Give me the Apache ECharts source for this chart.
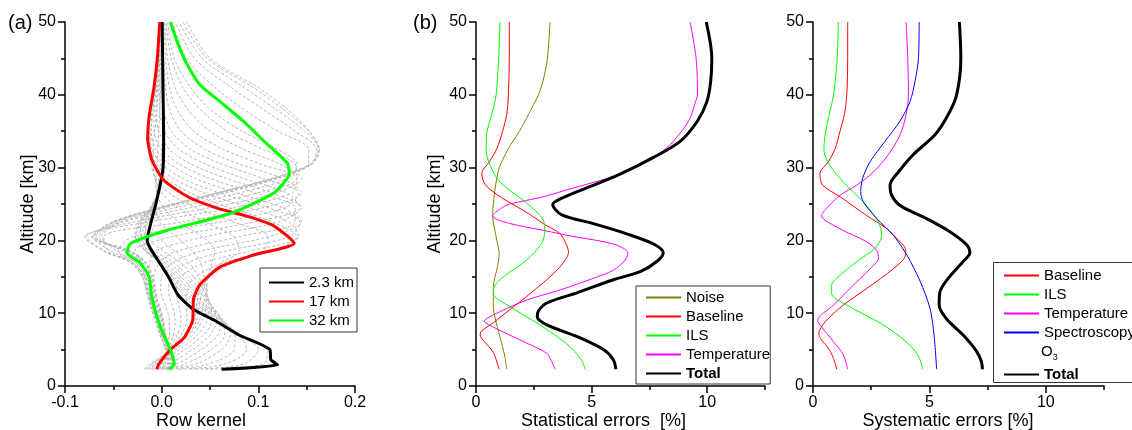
<!DOCTYPE html>
<html>
<head>
<meta charset="utf-8">
<script src="https://cdn.jsdelivr.net/npm/echarts@6/dist/echarts.min.js"></script>
<style>
  html, body { margin: 0; padding: 0; background: #fff; }
  #chart { width: 1132px; height: 430px; }
</style>
</head>
<body>
<div id="chart"></div>
<script>
// ---------- (a) averaging-kernel rows ----------
// highlighted rows: altitude grid + kernel value
const alt23 = [2.3, 2.9, 3.6, 5, 7, 9, 10.5, 12.5, 15, 17.5, 19, 20, 22.5, 25, 28, 30, 34, 40, 50];
const k23   = [0.062, 0.12, 0.113, 0.112, 0.08, 0.055, 0.033, 0.017, 0.007, -0.005, -0.012, -0.015, -0.011, -0.006, -0.001, 0.0015, 0.002, 0.0015, 0.0005];
const alt17 = [2.3, 3, 5, 6.6, 9, 12, 14, 16.4, 18, 19.6, 22, 23.3, 24.4, 26, 28.3, 31, 34, 37, 41, 45, 50];
const k17   = [-0.005, -0.003, 0.009, 0.023, 0.032, 0.033, 0.040, 0.061, 0.095, 0.137, 0.116, 0.089, 0.058, 0.027, 0.002, -0.010, -0.0145, -0.013, -0.008, -0.0045, -0.002];
const alt32 = [2.3, 3, 5, 8, 12, 15, 17, 18.3, 19.6, 21.4, 23.7, 26.5, 29.2, 30.6, 33.5, 36.3, 39, 41.3, 44.5, 47.3, 50];
const k32   = [0.0076, 0.013, 0.009, -0.001, -0.010, -0.013, -0.023, -0.036, -0.032, 0.006, 0.071, 0.116, 0.132, 0.13, 0.107, 0.085, 0.061, 0.040, 0.025, 0.016, 0.009];

// all other rows, sampled on a common altitude grid
const rowAlt = [2.3, 3, 5, 7, 9, 11, 13, 15, 17, 18.5, 20.5, 22.5, 24.5, 26.5, 28.5, 30.5, 32.5, 35, 38, 41, 45, 50];
const row3  = [0.045, 0.105, 0.11, 0.082, 0.057, 0.034, 0.018, 0.008, -0.003, -0.010, -0.015, -0.012, -0.008, -0.004, -0.001, 0.001, 0.002, 0.002, 0.002, 0.0015, 0.001, 0.0005];
const row4  = [0.03, 0.085, 0.10, 0.083, 0.06, 0.038, 0.02, 0.009, -0.003, -0.012, -0.018, -0.014, -0.009, -0.004, -0.001, 0.001, 0.002, 0.002, 0.002, 0.0015, 0.001, 0.0005];
const row5  = [0.018, 0.065, 0.088, 0.08, 0.062, 0.041, 0.023, 0.011, -0.003, -0.014, -0.021, -0.016, -0.009, -0.004, -0.001, 0.001, 0.002, 0.003, 0.002, 0.0015, 0.001, 0.0005];
const row6  = [0.01, 0.048, 0.075, 0.076, 0.063, 0.044, 0.026, 0.013, -0.002, -0.016, -0.024, -0.018, -0.01, -0.004, 0.0, 0.002, 0.003, 0.003, 0.002, 0.0015, 0.001, 0.0005];
const row7  = [0.004, 0.035, 0.062, 0.071, 0.064, 0.047, 0.03, 0.016, 0.0, -0.017, -0.027, -0.021, -0.011, -0.004, 0.0, 0.002, 0.003, 0.003, 0.002, 0.0015, 0.001, 0.0005];
const row8  = [-0.001, 0.024, 0.051, 0.065, 0.063, 0.05, 0.034, 0.02, 0.003, -0.016, -0.028, -0.023, -0.012, -0.004, 0.0, 0.002, 0.003, 0.003, 0.002, 0.0015, 0.001, 0.0005];
const row9  = [-0.005, 0.015, 0.041, 0.058, 0.061, 0.052, 0.038, 0.024, 0.007, -0.012, -0.027, -0.023, -0.012, -0.004, 0.0, 0.002, 0.003, 0.003, 0.002, 0.0015, 0.001, 0.0005];
const row10 = [-0.009, 0.007, 0.032, 0.05, 0.057, 0.052, 0.041, 0.028, 0.012, -0.007, -0.022, -0.021, -0.011, -0.004, 0.0, 0.002, 0.003, 0.003, 0.002, 0.001, 0.001, 0.0];
const row11 = [-0.012, 0.0, 0.024, 0.043, 0.052, 0.051, 0.044, 0.033, 0.019, 0.002, -0.015, -0.017, -0.01, -0.004, 0.0, 0.002, 0.002, 0.002, 0.002, 0.001, 0.001, 0.0];
const row12 = [-0.015, -0.006, 0.018, 0.037, 0.047, 0.049, 0.046, 0.038, 0.028, 0.014, -0.004, -0.012, -0.009, -0.004, -0.001, 0.001, 0.002, 0.002, 0.001, 0.001, 0.0, 0.0];
const row13 = [-0.017, -0.01, 0.014, 0.032, 0.042, 0.046, 0.047, 0.044, 0.04, 0.032, 0.015, -0.002, -0.006, -0.005, -0.003, -0.001, 0.0, 0.001, 0.001, 0.0, 0.0, 0.0];
const row14 = [-0.018, -0.013, 0.011, 0.029, 0.039, 0.043, 0.046, 0.048, 0.052, 0.055, 0.042, 0.018, 0.002, -0.005, -0.006, -0.005, -0.004, -0.003, -0.002, -0.001, 0.0, 0.0];
const row15 = [-0.014, -0.01, 0.01, 0.027, 0.036, 0.039, 0.042, 0.048, 0.062, 0.08, 0.075, 0.045, 0.017, 0.0, -0.007, -0.009, -0.009, -0.007, -0.005, -0.003, -0.002, -0.001];
const row16 = [-0.01, -0.007, 0.009, 0.025, 0.034, 0.036, 0.039, 0.05, 0.075, 0.105, 0.11, 0.075, 0.035, 0.008, -0.006, -0.011, -0.012, -0.011, -0.009, -0.006, -0.003, -0.001];
const row18 = [-0.002, 0.0, 0.009, 0.02, 0.026, 0.026, 0.026, 0.035, 0.065, 0.115, 0.14, 0.115, 0.07, 0.03, 0.005, -0.008, -0.013, -0.014, -0.012, -0.007, -0.004, -0.002];
const row19 = [0.0, 0.002, 0.008, 0.016, 0.02, 0.018, 0.015, 0.02, 0.045, 0.09, 0.142, 0.132, 0.09, 0.045, 0.012, -0.005, -0.012, -0.014, -0.012, -0.007, -0.004, -0.002];
const row20 = [0.002, 0.004, 0.007, 0.012, 0.014, 0.011, 0.007, 0.01, 0.028, 0.065, 0.132, 0.143, 0.11, 0.06, 0.022, 0.0, -0.01, -0.013, -0.011, -0.007, -0.004, -0.002];
const row21 = [0.003, 0.006, 0.006, 0.008, 0.008, 0.004, -0.001, 0.0, 0.012, 0.04, 0.11, 0.145, 0.125, 0.078, 0.035, 0.008, -0.006, -0.011, -0.01, -0.006, -0.003, -0.001];
const row22 = [0.004, 0.007, 0.005, 0.004, 0.002, -0.002, -0.007, -0.008, -0.002, 0.015, 0.08, 0.138, 0.138, 0.097, 0.05, 0.018, 0.0, -0.008, -0.008, -0.005, -0.003, -0.001];
const row23 = [0.005, 0.008, 0.004, 0.0, -0.003, -0.007, -0.011, -0.014, -0.012, -0.008, 0.045, 0.12, 0.145, 0.115, 0.067, 0.03, 0.008, -0.003, -0.006, -0.004, -0.002, -0.001];
const row24 = [0.006, 0.009, 0.004, -0.001, -0.005, -0.01, -0.014, -0.018, -0.02, -0.028, 0.01, 0.095, 0.143, 0.13, 0.085, 0.045, 0.018, 0.003, -0.002, -0.002, -0.001, 0.0];
const row25 = [0.006, 0.01, 0.005, -0.002, -0.007, -0.012, -0.016, -0.02, -0.027, -0.045, -0.03, 0.06, 0.128, 0.142, 0.105, 0.062, 0.03, 0.01, 0.002, 0.0, 0.0, 0.0];
const row26 = [0.007, 0.011, 0.006, -0.001, -0.006, -0.011, -0.015, -0.02, -0.03, -0.055, -0.06, 0.02, 0.105, 0.145, 0.125, 0.08, 0.045, 0.02, 0.008, 0.004, 0.002, 0.001];
const row27 = [0.007, 0.012, 0.007, 0.0, -0.005, -0.011, -0.015, -0.02, -0.033, -0.06, -0.08, -0.015, 0.075, 0.135, 0.14, 0.102, 0.064, 0.033, 0.016, 0.008, 0.004, 0.002];
const row28 = [0.008, 0.012, 0.008, 0.001, -0.004, -0.01, -0.014, -0.018, -0.032, -0.058, -0.078, -0.03, 0.05, 0.118, 0.145, 0.122, 0.085, 0.05, 0.027, 0.014, 0.006, 0.003];
const row29 = [0.008, 0.013, 0.008, 0.002, -0.003, -0.009, -0.013, -0.017, -0.03, -0.052, -0.072, -0.04, 0.03, 0.098, 0.14, 0.138, 0.105, 0.068, 0.04, 0.022, 0.01, 0.004];
const row30 = [0.008, 0.013, 0.009, 0.002, -0.003, -0.008, -0.012, -0.016, -0.027, -0.046, -0.062, -0.042, 0.015, 0.08, 0.13, 0.14, 0.12, 0.083, 0.05, 0.03, 0.013, 0.006];
const row34 = [0.009, 0.013, 0.009, 0.004, -0.001, -0.006, -0.01, -0.013, -0.022, -0.04, -0.065, -0.045, 0.005, 0.065, 0.12, 0.152, 0.152, 0.12, 0.085, 0.055, 0.026, 0.011];
const row37 = [0.009, 0.013, 0.009, 0.004, 0.0, -0.005, -0.009, -0.012, -0.02, -0.037, -0.07, -0.05, 0.0, 0.06, 0.118, 0.155, 0.16, 0.138, 0.105, 0.072, 0.034, 0.014];
const row40 = [0.008, 0.012, 0.008, 0.004, 0.0, -0.004, -0.008, -0.011, -0.018, -0.035, -0.072, -0.052, -0.003, 0.058, 0.117, 0.156, 0.163, 0.148, 0.118, 0.085, 0.042, 0.018];
const row44 = [0.008, 0.011, 0.008, 0.004, 0.001, -0.003, -0.007, -0.01, -0.017, -0.033, -0.07, -0.05, -0.002, 0.057, 0.115, 0.155, 0.163, 0.152, 0.126, 0.095, 0.047, 0.022];
const row48 = [0.007, 0.01, 0.007, 0.004, 0.001, -0.003, -0.006, -0.009, -0.016, -0.031, -0.068, -0.048, 0.0, 0.056, 0.113, 0.153, 0.162, 0.153, 0.13, 0.1, 0.05, 0.026];
const otherRows = [row3, row4, row5, row6, row7, row8, row9, row10, row11, row12, row13, row14, row15, row16,
  row18, row19, row20, row21, row22, row23, row24, row25, row26, row27, row28, row29, row30,
  row34, row37, row40, row44, row48];

// ---------- (b) statistical errors [%] ----------
const noiseAlt = [2.3, 4, 5.4, 8, 11, 13.6, 16.4, 18.2, 20, 23.5, 25, 27.6, 30, 32.6, 35, 37.3, 40, 41.8, 45, 50];
const noiseErr = [1.33, 1.25, 1.15, 0.93, 0.75, 0.75, 0.93, 1.0, 0.9, 0.72, 0.75, 0.85, 1.01, 1.40, 1.88, 2.27, 2.7, 2.89, 3.09, 3.2];
const stBaseAlt = [2.3, 4.6, 6, 7, 7.5, 8.7, 10.5, 12.3, 14.6, 16.4, 18.4, 19.5, 20.9, 22.3, 23.7, 25.5, 26.3, 27.7, 29.2, 30.8, 32.6, 35, 37.3, 40, 45, 50];
const stBaseErr = [1.0, 0.75, 0.39, 0.18, 0.22, 0.75, 1.47, 2.19, 3.06, 3.64, 4.0, 3.9, 3.64, 2.91, 2.26, 1.3, 0.9, 0.39, 0.25, 0.58, 0.9, 1.15, 1.33, 1.40, 1.44, 1.44];
const stIlsAlt = [2.3, 3.5, 5.4, 8.1, 10.9, 12.7, 13.6, 15, 17.3, 19.6, 21.2, 22.8, 25.1, 28, 30.3, 32.4, 34.6, 37.3, 40, 45, 50];
const stIlsErr = [4.72, 4.57, 4.07, 2.91, 1.47, 0.75, 0.78, 1.18, 2.19, 2.84, 2.97, 2.91, 2.2, 1.04, 0.61, 0.44, 0.46, 0.68, 0.87, 0.98, 1.04];
const stTempAlt = [2.3, 3.5, 4.5, 5.9, 7.9, 8.9, 10, 11.8, 13.2, 14.8, 15.9, 17.3, 18.3, 19.5, 20.9, 23.4, 24.8, 25.5, 26.0, 27.2, 28.5, 29.9, 32.3, 34.6, 36.8, 39.1, 40, 45, 50];
const stTempErr = [3.42, 3.25, 3.06, 2.19, 0.87, 0.36, 0.9, 2.19, 3.64, 5.08, 5.94, 6.45, 6.57, 5.94, 3.64, 0.72, 1.3, 2.2, 2.91, 4.21, 5.66, 6.81, 8.1, 8.8, 9.26, 9.5, 9.58, 9.52, 9.26];
const stTotAlt = [2.3, 3.6, 5, 6.8, 8.4, 9.5, 10.3, 11.4, 12.8, 14.6, 15.7, 17.1, 18.3, 19.5, 20.9, 22.3, 23.5, 24.9, 26.3, 27.2, 29.1, 31.4, 33.6, 36.4, 39.1, 41.8, 45, 50];
const stTotErr = [6.05, 5.94, 5.51, 4.36, 3.06, 2.65, 2.7, 3.06, 4.36, 5.94, 7.1, 7.82, 8.1, 7.68, 6.52, 5.08, 3.71, 3.32, 4.07, 4.79, 6.23, 7.68, 8.83, 9.58, 9.99, 10.15, 10.2, 9.96];

// ---------- (c) systematic errors [%] ----------
const syBaseAlt = [2.3, 3.8, 5.2, 6.5, 7.2, 8.8, 11.1, 13.4, 16.1, 18.0, 18.9, 19.8, 21.6, 23.4, 26.0, 27.6, 29.2, 30.8, 32.6, 35, 37.3, 40, 45, 50];
const syBaseErr = [1.02, 0.88, 0.66, 0.33, 0.25, 0.52, 1.3, 2.31, 3.45, 3.97, 3.96, 3.74, 3.17, 2.31, 1.16, 0.41, 0.30, 0.66, 0.95, 1.16, 1.35, 1.45, 1.49, 1.49];
const syIlsAlt = [2.3, 3.8, 5.6, 8.4, 11.1, 12.7, 13.9, 14.8, 17.1, 18.9, 20.7, 22.5, 25.3, 28, 30.3, 32.4, 34.5, 37.3, 40, 45, 50];
const syIlsErr = [4.71, 4.57, 4.17, 3.02, 1.45, 0.8, 0.8, 1.02, 1.88, 2.66, 2.95, 2.81, 2.16, 1.30, 0.73, 0.47, 0.52, 0.70, 0.88, 1.04, 1.09];
const syTempAlt = [2.3, 4.3, 6.1, 8.1, 9.0, 11.1, 13.4, 16.1, 17.5, 18.6, 19.8, 21.6, 23.4, 24.8, 26.2, 27.6, 29.4, 31.8, 34.5, 37.3, 40, 45, 50];
const syTempErr = [1.49, 1.30, 0.88, 0.37, 0.2, 0.88, 1.59, 2.45, 2.81, 2.74, 2.31, 1.16, 0.37, 0.70, 1.16, 1.88, 2.6, 3.24, 3.74, 4.0, 4.1, 4.07, 4.0];
const sySpecAlt = [2.3, 7, 10.6, 14.4, 18, 20.7, 23, 25.3, 26.7, 28.5, 30.8, 33.6, 36.4, 39.1, 41.8, 45, 50];
const sySpecErr = [5.31, 5.2, 5.03, 4.6, 4.03, 3.45, 2.74, 2.16, 2.05, 2.13, 2.45, 3.09, 3.74, 4.17, 4.38, 4.53, 4.56];
const syTotAlt = [2.3, 3.4, 4.8, 7.0, 9.2, 11.1, 12.9, 14.8, 17.1, 18.3, 19.4, 21.2, 23.0, 24.8, 26.2, 27.6, 29.4, 31.8, 34.5, 37.3, 40, 45, 50];
const syTotErr = [7.28, 7.23, 7.02, 6.45, 5.74, 5.42, 5.45, 5.81, 6.45, 6.74, 6.6, 5.88, 4.88, 3.74, 3.38, 3.31, 3.67, 4.31, 5.24, 5.81, 6.17, 6.35, 6.29];

// ---------- styling ----------
const FONT = '"Liberation Sans", Arial, sans-serif';
const AX = '#000';
const profile = (vals, alts) => vals.map((v, i) => [v, alts[i]]);

function yAxis(gridIndex, name, nameGap) {
  return {
    type: 'value', gridIndex, min: 0, max: 50, interval: 10,
    name, nameLocation: 'middle', nameGap, nameMoveOverlap: false,
    nameTextStyle: { fontSize: 18, color: '#000', fontFamily: FONT },
    axisLine: { show: true, onZero: false, lineStyle: { color: AX, width: 1.5 } },
    axisTick: { show: true, inside: false, length: 7, lineStyle: { color: AX, width: 1.5 } },
    minorTick: { show: true, splitNumber: 2, length: 4, lineStyle: { color: AX, width: 1.5 } },
    axisLabel: { fontSize: 16, color: '#000', margin: 9, fontFamily: FONT },
    splitLine: { show: false }, minorSplitLine: { show: false }
  };
}

function errAxisMajor(gridIndex, name, shift) {
  return {
    type: 'value', gridIndex, min: 0, max: 12.5, interval: 5,
    name, nameLocation: 'middle', nameGap: 26, nameMoveOverlap: false,
    nameTextStyle: { fontSize: 18, color: '#000', fontFamily: FONT, padding: [0, shift, 0, 0] },
    axisLine: { show: true, onZero: false, lineStyle: { color: AX, width: 1.5 } },
    axisTick: { show: true, inside: false, length: 7, customValues: [0, 5, 10], lineStyle: { color: AX, width: 1.5 } },
    axisLabel: { fontSize: 16, color: '#000', margin: 9, fontFamily: FONT, customValues: [0, 5, 10],
      formatter: v => (Math.abs(v % 5) < 1e-9 ? String(v) : '') },
    splitLine: { show: false }
  };
}
function errAxisMinor(gridIndex) {
  return {
    type: 'value', gridIndex, min: 0, max: 12.5, position: 'bottom',
    axisLine: { show: false, onZero: false },
    axisTick: { show: true, inside: false, length: 4, customValues: [2.5, 7.5, 12.5], lineStyle: { color: AX, width: 1.5 } },
    axisLabel: { show: false },
    splitLine: { show: false }
  };
}

function line(name, x, y, data, color, width, extra) {
  return Object.assign({
    type: 'line', name, xAxisIndex: x, yAxisIndex: y, data,
    symbol: 'none', smooth: 0.3, silent: true,
    lineStyle: { color, width }, itemStyle: { color }
  }, extra || {});
}

const series = [];
// (a) gray dashed rows
otherRows.forEach((r, i) => {
  series.push({
    type: 'line', name: 'row ' + i, xAxisIndex: 0, yAxisIndex: 0, data: profile(r, rowAlt),
    symbol: 'none', smooth: 0.3, silent: true, z: 1,
    lineStyle: { color: '#b8b8b8', width: 1, type: [3, 2] }
  });
});
series.push(line('2.3 km', 0, 0, profile(k23, alt23), '#000000', 3, { smooth: 0.2, z: 3 }));
series.push(line('17 km', 0, 0, profile(k17, alt17), '#ff0000', 3, { smooth: 0.2, z: 3 }));
series.push(line('32 km', 0, 0, profile(k32, alt32), '#00ff00', 3, { smooth: 0.2, z: 3 }));
// (b)
series.push(line('Noise', 1, 1, profile(noiseErr, noiseAlt), '#808000', 1));
series.push(line('Baseline', 1, 1, profile(stBaseErr, stBaseAlt), '#ff0000', 1));
series.push(line('ILS', 1, 1, profile(stIlsErr, stIlsAlt), '#00ff00', 1));
series.push(line('Temperature', 1, 1, profile(stTempErr, stTempAlt), '#ff00ff', 1));
series.push(line('Total', 1, 1, profile(stTotErr, stTotAlt), '#000000', 3));
// (c)
series.push(line('Baseline', 3, 2, profile(syBaseErr, syBaseAlt), '#ff0000', 1));
series.push(line('ILS', 3, 2, profile(syIlsErr, syIlsAlt), '#00ff00', 1));
series.push(line('Temperature', 3, 2, profile(syTempErr, syTempAlt), '#ff00ff', 1));
series.push(line('Spectroscopy O₃', 3, 2, profile(sySpecErr, sySpecAlt), '#0000ff', 1));
series.push(line('Total', 3, 2, profile(syTotErr, syTotAlt), '#000000', 3));

// legend keys are plain line segments (no marker)
const legendBase = {
  orient: 'vertical', itemWidth: 35, itemHeight: 14, itemGap: 4,
  selectedMode: false,
  itemStyle: { opacity: 0 },
  textStyle: { fontSize: 15, color: '#000', fontFamily: FONT }
};

const option = {
  animation: false,
  backgroundColor: '#fff',
  textStyle: { fontFamily: FONT },
  grid: [
    { left: 65, top: 22, width: 290, height: 364, outerBoundsMode: 'none' },
    { left: 476, top: 22, width: 289, height: 364, outerBoundsMode: 'none' },
    { left: 813, top: 22, width: 291, height: 364, outerBoundsMode: 'none' }
  ],
  xAxis: [
    {
      type: 'value', gridIndex: 0, min: -0.1, max: 0.2, interval: 0.1,
      name: 'Row kernel', nameLocation: 'middle', nameGap: 26, nameMoveOverlap: false,
      nameTextStyle: { fontSize: 18, color: '#000', fontFamily: FONT, padding: [0, 18, 0, 0] },
      axisLine: { show: true, onZero: false, lineStyle: { color: AX, width: 1.5 } },
      axisTick: { show: true, inside: false, length: 7, lineStyle: { color: AX, width: 1.5 } },
      minorTick: { show: true, splitNumber: 2, length: 4, lineStyle: { color: AX, width: 1.5 } },
      axisLabel: { fontSize: 16, color: '#000', margin: 9, fontFamily: FONT,
        formatter: v => (Math.abs(v) < 1e-9 ? '0.0' : v.toFixed(1)) },
      splitLine: { show: false }, minorSplitLine: { show: false }
    },
    errAxisMajor(1, 'Statistical errors  [%]', 34),
    errAxisMinor(1),
    errAxisMajor(2, 'Systematic errors [%]', 21),
    errAxisMinor(2)
  ],
  yAxis: [
    yAxis(0, 'Altitude [km]', 28),
    yAxis(1, 'Altitude [km]', 32),
    yAxis(2, '', 30)
  ],
  legend: [
    Object.assign({}, legendBase, {
      data: ['2.3 km', '17 km', '32 km'],
      left: 260, top: 268, padding: [7, 3, 4, 8],
      borderColor: '#333', borderWidth: 1
    }),
    Object.assign({}, legendBase, {
      data: ['Noise', 'Baseline', 'ILS', 'Temperature', { name: 'Total', textStyle: { fontWeight: 'bold' } }],
      left: 636, top: 286, padding: [4, 0, 3, 9],
      borderColor: '#333', borderWidth: 1
    }),
    Object.assign({}, legendBase, {
      data: ['Baseline', 'ILS', 'Temperature', 'Spectroscopy O₃'],
      formatter: n => (n === 'Spectroscopy O₃' ? 'Spectroscopy' : n),
      left: 1003, top: 268, padding: 0
    }),
    Object.assign({}, legendBase, {
      data: [{ name: 'Total', textStyle: { fontWeight: 'bold' } }],
      left: 1003, top: 367, padding: 0
    })
  ],
  graphic: [
    { type: 'text', left: 8, top: 13, style: { text: '(a)', font: '20px ' + FONT, fill: '#000' } },
    { type: 'text', left: 413, top: 13, style: { text: '(b)', font: '20px ' + FONT, fill: '#000' } },
    { type: 'rect', shape: { x: 993.5, y: 262.5, width: 150, height: 120 },
      style: { fill: 'none', stroke: '#333', lineWidth: 1 } },
    { type: 'text', x: 1041, y: 352,
      style: {
        text: '{o|O}{s|3}', verticalAlign: 'middle',
        rich: {
          o: { fontSize: 15, fontFamily: FONT, fill: '#000', lineHeight: 20, verticalAlign: 'middle' },
          s: { fontSize: 9, fontFamily: FONT, fill: '#000', lineHeight: 20, verticalAlign: 'bottom', padding: [6, 0, 0, 0] }
        }
      } }
  ],
  series
};

const chart = echarts.init(document.getElementById('chart'), null, { renderer: 'canvas' });
chart.setOption(option);
</script>
</body>
</html>
